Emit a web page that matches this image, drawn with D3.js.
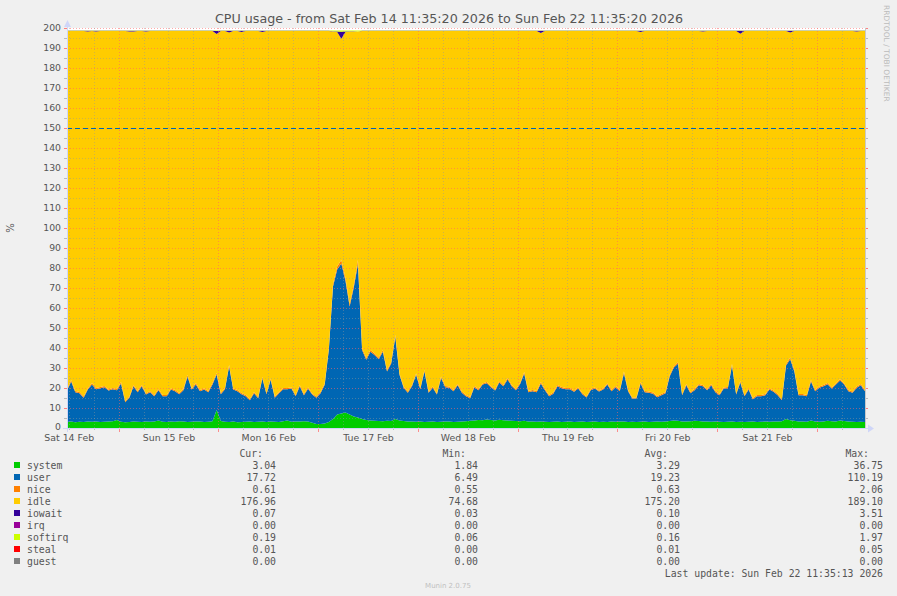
<!DOCTYPE html>
<html><head><meta charset="utf-8">
<script src="https://cdn.jsdelivr.net/npm/d3@7"></script>
<style>body{margin:0;background:#f0f0f0;}svg{display:block}</style>
</head><body><svg id="c" width="897" height="596"></svg>
<script>
// ---- data (one point per hour, Sat 14 Feb 11:35:20 -> Sun 22 Feb 11:35:20, UTC) ----
const seriesKeys = ["system","user","nice","idle","iowait","irq","softirq","steal","guest"];
const seriesColors = ["#00CC00","#0066B3","#FF8000","#FFCC00","#330099","#990099","#CCFF00","#FF0000","#808080"];
const system = [
3.0,3.2,2.9,3.1,3.0,3.2,3.1,3.3,3.0,3.1,3.2,3.4,
4.0,3.1,2.9,3.0,3.2,3.1,3.0,3.2,3.1,3.3,3.8,3.1,
3.0,3.2,3.1,3.4,3.2,3.0,3.1,3.3,3.2,3.0,3.1,3.4,
9.0,3.5,3.1,3.0,3.2,2.9,3.0,3.1,3.2,3.0,3.1,3.3,
3.0,3.2,3.1,3.0,3.4,3.8,3.1,3.2,3.3,3.4,3.2,2.6,
2.0,2.0,2.2,3.0,4.5,6.8,7.2,7.8,6.8,5.8,5.2,4.5,
4.0,3.8,3.6,3.5,3.4,3.6,3.5,4.5,3.8,3.5,3.3,3.2,
3.1,3.2,3.0,3.1,3.2,3.0,3.1,3.2,3.3,3.0,3.1,3.2,
3.4,3.6,3.8,4.0,3.9,4.2,4.0,3.8,4.1,3.9,3.7,3.6,
3.5,3.4,3.6,3.3,3.2,3.1,3.2,3.1,3.0,3.1,3.3,3.0,
3.1,3.2,3.0,3.1,3.2,3.0,3.1,3.2,3.0,3.1,3.0,3.2,
3.1,3.3,3.2,3.0,3.1,3.0,3.1,3.2,3.0,3.1,3.2,3.1,
3.3,3.5,3.8,3.6,3.3,3.2,3.4,3.6,3.5,3.3,3.2,3.1,
3.2,3.1,3.0,3.1,3.2,3.0,3.1,3.0,3.1,3.2,3.0,3.1,
3.2,3.1,3.3,3.2,3.4,4.5,3.9,3.6,3.3,3.2,3.1,3.8,
3.2,3.1,3.3,3.6,3.4,3.3,3.8,3.5,3.2,3.1,3.0,3.1,
3.0];
const user = [
15.7,20.1,15.0,14.3,12.1,16.0,18.7,16.1,16.9,17.3,15.5,16.0,
14.9,19.2,10.0,12.1,17.7,14.8,17.9,13.5,14.8,12.6,15.1,12.8,
12.9,16.0,15.3,13.5,15.7,22.7,16.1,18.5,15.2,16.2,14.8,18.4,
17.7,13.4,16.3,27.7,16.0,15.5,13.9,12.8,10.7,14.4,11.8,21.5,
13.9,20.9,12.0,14.4,16.0,15.6,16.6,12.7,17.6,13.0,16.4,14.1,
13.1,15.4,19.4,36.2,66.3,72.4,75.0,65.8,54.0,64.4,76.8,34.5,
30.1,34.3,32.9,31.0,34.7,24.7,28.7,41.0,22.8,16.6,14.3,17.7,
23.5,16.2,25.2,14.5,16.9,13.7,21.9,17.2,16.8,15.4,18.3,14.4,
12.5,11.3,16.6,14.9,17.8,18.2,16.4,14.9,18.7,17.0,20.6,17.3,
15.4,18.5,23.6,14.6,15.2,14.8,19.1,15.8,12.9,14.0,17.6,16.9,
16.3,16.2,15.1,16.6,13.7,12.2,15.8,16.5,15.2,16.1,18.7,15.2,
17.3,15.1,24.2,15.4,11.6,11.7,19.2,14.7,14.6,14.0,12.2,13.3,
14.1,22.3,26.4,28.5,13.1,18.2,14.0,15.3,17.9,17.6,15.7,18.3,
14.7,13.3,16.7,16.8,28.0,13.7,19.7,12.9,16.1,11.2,12.9,12.8,
13.2,16.1,14.8,13.2,10.5,26.7,30.5,24.6,13.1,13.2,12.8,19.5,
15.2,17.0,17.6,18.3,16.3,18.4,20.0,18.2,15.2,14.5,17.1,18.3,
15.4];
const nice = [
.6,.7,.6,.6,.6,.6,.7,.6,.6,.6,.6,.6,
.6,.7,.6,.6,.6,.6,.6,.6,.6,.6,.6,.6,
.6,.6,.6,.6,.6,.8,.6,.7,.6,.6,.6,.7,
.8,.6,.6,.8,.6,.6,.6,.6,.6,.6,.6,.7,
.6,.7,.6,.6,.6,.6,.6,.6,.6,.6,.6,.6,
.6,.6,.7,.8,1.2,1.5,1.8,1.4,1.2,1.3,2.0,1.0,
.9,.9,.8,.8,.9,.7,.8,1.0,.7,.6,.6,.6,
.7,.6,.8,.6,.6,.6,.7,.6,.6,.6,.6,.6,
.6,.6,.6,.6,.6,.6,.6,.6,.7,.6,.7,.6,
.6,.6,.8,.6,.6,.6,.7,.6,.6,.6,.6,.6,
.6,.6,.6,.6,.6,.6,.6,.6,.6,.6,.6,.6,
.6,.6,.8,.6,.6,.6,.7,.6,.6,.6,.6,.6,
.6,.7,.8,.9,.6,.6,.6,.6,.6,.6,.6,.6,
.6,.6,.6,.6,.8,.6,.7,.6,.6,.6,.6,.6,
.6,.6,.6,.6,.6,.8,.9,.8,.6,.6,.6,.7,
.6,.6,.6,.6,.6,.6,.7,.6,.6,.6,.6,.6,
.6];
const iowait = [
.1,.1,.1,.1,.1,.4,.1,.4,.1,.1,.1,.1,
.1,.1,.1,.3,.4,.1,.1,.3,.1,.1,.1,.1,
.1,.1,.1,.1,.1,.1,.1,.1,.1,.1,.1,.1,
1.5,.1,.1,.8,.1,.1,.6,.1,.1,.1,.1,.6,
.1,.1,.1,.1,.1,.1,.1,.1,.1,.1,.1,.1,
.1,.1,.1,.1,.2,.3,3.5,.3,.2,.1,.1,.1,
.1,.1,.1,.1,.1,.1,.1,.1,.1,.1,.1,.1,
.1,.1,.1,.1,.1,.1,.1,.1,.1,.1,.1,.1,
.1,.1,.1,.1,.1,.1,.1,.1,.1,.1,.1,.1,
.1,.1,.1,.1,.1,.1,1.2,.1,.1,.1,.1,.1,
.1,.1,.1,.1,.1,.1,.1,.1,.1,.1,.1,.1,
.1,.1,.1,.1,.1,.1,.6,.1,.1,.1,.1,.1,
.1,.1,.1,.1,.1,.1,.1,.1,.1,.4,.1,.1,
.1,.1,.1,.1,.1,.1,1.5,.1,.1,.1,.1,.1,
.1,.1,.1,.1,.1,.1,.8,.1,.1,.1,.1,.1,
.1,.1,.1,.1,.1,.1,.1,.1,.1,.1,.4,.1,
.1];
const softirq = [
.2,.2,.2,.2,.2,.2,.2,.2,.2,.2,.2,.2,
.2,.2,.2,.2,.2,.2,.2,.2,.2,.2,.2,.2,
.15,.15,.15,.15,.15,.15,.15,.15,.15,.15,.15,.15,
.3,.15,.15,.2,.15,.15,.15,.15,.15,.15,.15,.2,
.15,.15,.15,.15,.15,.15,.15,.15,.15,.15,.15,.15,
.15,.15,.15,.2,.4,.5,.6,.5,.4,.4,.5,.2,
.2,.2,.2,.2,.2,.15,.15,.2,.15,.15,.15,.15,
.15,.15,.15,.15,.15,.15,.15,.15,.15,.15,.15,.15,
.15,.15,.15,.15,.15,.15,.15,.15,.15,.15,.15,.15,
.15,.15,.15,.15,.15,.15,.15,.15,.15,.15,.15,.15,
.15,.15,.15,.15,.15,.15,.15,.15,.15,.15,.15,.15,
.15,.15,.2,.15,.15,.15,.15,.15,.15,.15,.15,.15,
.15,.15,.2,.2,.15,.15,.15,.15,.15,.15,.15,.15,
.15,.15,.15,.15,.2,.15,.15,.15,.15,.15,.15,.15,
.15,.15,.15,.15,.15,.2,.2,.15,.15,.15,.15,.15,
.15,.15,.15,.15,.15,.15,.15,.15,.15,.15,.15,.15,
.19];
const steal = [
.01,.01,.01,.01,.01,.01,.01,.01,.01,.01,.01,.01,
.01,.01,.01,.01,.01,.01,.01,.01,.01,.01,.01,.01,
.01,.01,.01,.01,.01,.01,.01,.01,.01,.01,.01,.01,
.01,.01,.01,.01,.01,.01,.01,.01,.01,.01,.01,.01,
.01,.01,.01,.01,.01,.01,.01,.01,.01,.01,.01,.01,
.01,.01,.01,.01,.01,.02,.02,.02,.01,.01,.01,.01,
.01,.01,.01,.01,.01,.01,.01,.01,.01,.01,.01,.01,
.01,.01,.01,.01,.01,.01,.01,.01,.01,.01,.01,.01,
.01,.01,.01,.01,.01,.01,.01,.01,.01,.01,.01,.01,
.01,.01,.01,.01,.01,.01,.01,.01,.01,.01,.01,.01,
.01,.01,.01,.01,.01,.01,.01,.01,.01,.01,.01,.01,
.01,.01,.01,.01,.01,.01,.01,.01,.01,.01,.01,.01,
.02,.02,.02,.01,.01,.01,.01,.01,.01,.01,.01,.01,
.01,.01,.01,.01,.01,.01,.01,.01,.01,.01,.01,.01,
.01,.01,.01,.01,.01,.01,.01,.01,.01,.01,.01,.01,
.01,.01,.01,.01,.01,.01,.01,.01,.01,.01,.01,.01,
.01];
const irqValue = 0.00, guestValue = 0.00;   // read as 0.00 everywhere
const cpuCapacity = 198.8;                   // stack top (idle fills the rest)
const warningLine = 150;

const yTickLabels = [0,10,20,30,40,50,60,70,80,90,100,110,120,130,140,150,160,170,180,190,200];
const xTickLabels = ["Sat 14 Feb","Sun 15 Feb","Mon 16 Feb","Tue 17 Feb","Wed 18 Feb","Thu 19 Feb","Fri 20 Feb","Sat 21 Feb"];

const legendNames = ["system","user","nice","idle","iowait","irq","softirq","steal","guest"];
const curVals = ["3.04","17.72","0.61","176.96","0.07","0.00","0.19","0.01","0.00"];
const minVals = ["1.84","6.49","0.55","74.68","0.03","0.00","0.06","0.00","0.00"];
const avgVals = ["3.29","19.23","0.63","175.20","0.10","0.00","0.16","0.01","0.00"];
const maxVals = ["36.75","110.19","2.06","189.10","3.51","0.00","1.97","0.05","0.00"];

const titleText = "CPU usage - from Sat Feb 14 11:35:20 2026 to Sun Feb 22 11:35:20 2026";
const lastUpdate = "Last update: Sun Feb 22 11:35:13 2026";

// ---- drawing ----
const startTime = Date.UTC(2026,1,14,11,35,20);
const endTime   = Date.UTC(2026,1,22,11,35,20);
const HOUR = 3600e3;
const L = 67, R = 865, T = 28, B = 428;

const svg = d3.select("#c");
const SANS = "'DejaVu Sans', sans-serif", MONO = "'DejaVu Sans Mono', monospace";

svg.append("rect").attr("width",897).attr("height",596).attr("fill","#f0f0f0");
svg.append("rect").attr("x",L).attr("y",T).attr("width",R-L).attr("height",B-T).attr("fill","#ffffff");

const x = d3.scaleUtc().domain([new Date(startTime), new Date(endTime)]).range([L, R]);
const y = d3.scaleLinear().domain([0, 200]).range([B, T]);

const n = Math.min(system.length, user.length, nice.length, iowait.length, softirq.length, steal.length);
const rows = d3.range(n).map(i => {
  const r = {t: new Date(startTime + i*HOUR), system: system[i], user: user[i], nice: nice[i],
    iowait: iowait[i], irq: irqValue, softirq: softirq[i], steal: steal[i], guest: guestValue};
  r.idle = cpuCapacity - (r.system + r.user + r.nice + r.iowait + r.irq + r.softirq + r.steal + r.guest);
  return r;
});

const stacked = d3.stack().keys(seriesKeys)(rows);
const area = d3.area().x(d => x(d.data.t)).y0(d => y(d[0])).y1(d => y(d[1])).curve(d3.curveLinear);
svg.append("g").selectAll("path").data(stacked).join("path")
  .attr("d", area).attr("fill", (d,i) => seriesColors[i]);

// grid
const grid = svg.append("g").attr("shape-rendering","crispEdges");
const minorGrid = "rgba(150,150,150,0.45)", majorGrid = "rgba(255,100,100,0.55)";
d3.range(0, 201, 5).forEach(v => {
  grid.append("line").attr("x1",L).attr("x2",R).attr("y1",y(v)+0.5).attr("y2",y(v)+0.5)
    .attr("stroke", v % 10 === 0 ? majorGrid : minorGrid).attr("stroke-dasharray","1,2");
});
const sixHours = d3.utcHour.every(6).range(new Date(startTime), new Date(endTime));
sixHours.forEach(t => {
  const isMid = t.getUTCHours() === 0;
  grid.append("line").attr("x1",x(t)+0.5).attr("x2",x(t)+0.5).attr("y1",T).attr("y2",B)
    .attr("stroke", isMid ? majorGrid : minorGrid).attr("stroke-dasharray","1,2");
  grid.append("line").attr("x1",x(t)+0.5).attr("x2",x(t)+0.5).attr("y1",B).attr("y2",B+(isMid?4:2))
    .attr("stroke", isMid ? "rgba(255,100,100,0.7)" : "#bbb");
});
// y tick marks at both sides
d3.range(0, 201, 5).forEach(v => {
  const c = v % 10 === 0 ? "rgba(255,100,100,0.8)" : "#bbb";
  grid.append("line").attr("x1",L-3).attr("x2",L).attr("y1",y(v)+0.5).attr("y2",y(v)+0.5).attr("stroke",c);
  grid.append("line").attr("x1",R).attr("x2",R+3).attr("y1",y(v)+0.5).attr("y2",y(v)+0.5).attr("stroke",c);
});

// warning line
svg.append("line").attr("x1",L).attr("x2",R).attr("y1",y(warningLine)+0.5).attr("y2",y(warningLine)+0.5)
  .attr("stroke","#0066B3").attr("stroke-width",1).attr("stroke-dasharray","5,3").attr("shape-rendering","crispEdges");

// axes lines & arrows
const axisColor = "#CFD6F8";
svg.append("line").attr("x1",L-4).attr("x2",R+4).attr("y1",B+0.5).attr("y2",B+0.5).attr("stroke",axisColor);
svg.append("line").attr("x1",L+0.5).attr("x2",L+0.5).attr("y1",B+4).attr("y2",T-5).attr("stroke",axisColor);
svg.append("line").attr("x1",R+0.5).attr("x2",R+0.5).attr("y1",B).attr("y2",T).attr("stroke","#c8c8c8");
svg.append("path").attr("d",`M${L-3},${T-1} L${L+0.5},${T-8} L${L+4},${T-1} Z`).attr("fill",axisColor);
svg.append("path").attr("d",`M${R+3},${B-3.5} L${R+9},${B+0.5} L${R+3},${B+4.5} Z`).attr("fill",axisColor);

// y axis labels
const yAxis = d3.axisLeft(y).tickValues(yTickLabels).tickSize(0).tickPadding(6).tickFormat(d => String(d));
const gy = svg.append("g").attr("transform",`translate(${L},0)`).call(yAxis);
gy.select(".domain").remove();
gy.selectAll("text").attr("font-family",SANS).attr("font-size","9.3px").attr("fill","#555");
gy.selectAll(".tick").filter(d => d === 0).select("text").attr("dy","0.2em");

// x axis labels at noon
const noonTicks = xTickLabels.map((s,i) => new Date(Date.UTC(2026,1,14+i,12,0,0)));
const xAxis = d3.axisBottom(x).tickValues(noonTicks).tickSize(0).tickPadding(6)
  .tickFormat((d,i) => xTickLabels[i]);
const gx = svg.append("g").attr("transform",`translate(0,${B})`).call(xAxis);
gx.select(".domain").remove();
gx.selectAll("text").attr("font-family",SANS).attr("font-size","9.4px").attr("fill","#555");

// title, labels
svg.append("text").attr("x",449).attr("y",23).attr("text-anchor","middle")
  .attr("font-family",SANS).attr("font-size","12.7px").attr("fill","#555").text(titleText);
svg.append("text").attr("transform","translate(14,228) rotate(-90)").attr("text-anchor","middle")
  .attr("font-family",SANS).attr("font-size","10px").attr("fill","#555").text("%");
svg.append("text").attr("transform","translate(884,5) rotate(90)").attr("text-anchor","start")
  .attr("font-family",SANS).attr("font-size","7.5px").attr("fill","#bbb").text("RRDTOOL / TOBI OETIKER");
svg.append("text").attr("x",448).attr("y",588).attr("text-anchor","middle")
  .attr("font-family",SANS).attr("font-size","7px").attr("fill","#c0c0c0").text("Munin 2.0.75");

// legend
const lg = svg.append("g").attr("font-family",MONO).attr("font-size","9.8px").attr("fill","#555");
const headers = [["Cur:",263],["Min:",466],["Avg:",668],["Max:",869]];
headers.forEach(h => lg.append("text").attr("x",h[1]).attr("y",456.5).attr("text-anchor","end").text(h[0]));
const colRight = [276, 478, 680, 883];
legendNames.forEach((name,i) => {
  const yy = 468.5 + i*12;
  lg.append("rect").attr("x",14).attr("y",yy-6.5).attr("width",6).attr("height",6).attr("fill",seriesColors[i]);
  lg.append("text").attr("x",27).attr("y",yy).text(name);
  [curVals,minVals,avgVals,maxVals].forEach((arr,j) =>
    lg.append("text").attr("x",colRight[j]).attr("y",yy).attr("text-anchor","end").text(arr[i]));
});
lg.append("text").attr("x",883).attr("y",576.5).attr("text-anchor","end").text(lastUpdate);
</script></body></html>
